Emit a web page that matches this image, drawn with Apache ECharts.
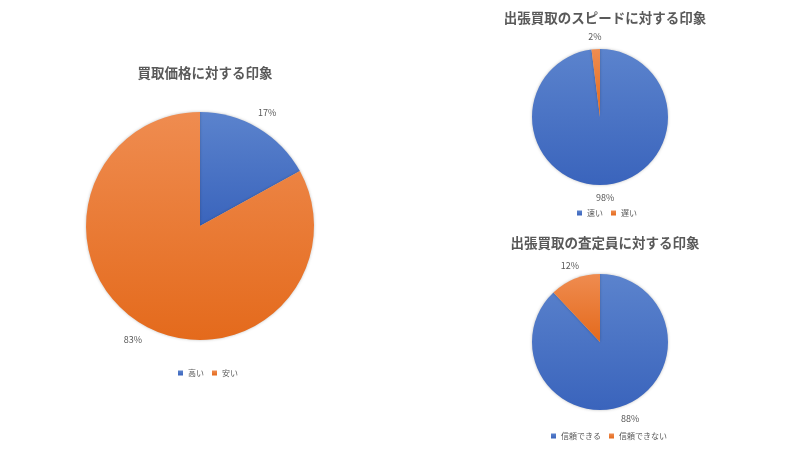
<!DOCTYPE html>
<html>
<head>
<meta charset="utf-8">
<script src="https://cdn.jsdelivr.net/npm/echarts@6/dist/echarts.min.js"></script>
<style>
  html, body { margin: 0; padding: 0; background: #fff; }
  #chart { width: 800px; height: 450px; }
</style>
</head>
<body>
<div id="chart"></div>
<script>
// survey results (%)
const priceNames = ['高い', '安い'];
const priceValues = [17, 83];
const speedNames = ['速い', '遅い'];
const speedValues = [98, 2];
const staffNames = ['信頼できる', '信頼できない'];
const staffValues = [88, 12];

const titles = ['買取価格に対する印象', '出張買取のスピードに対する印象', '出張買取の査定員に対する印象'];

const FONT = '"Noto Sans CJK JP", "Noto Sans", sans-serif';
const TEXT = '#595959';

const blueFill = new echarts.graphic.LinearGradient(0, 0, 0, 1, [
    { offset: 0, color: '#5b83cd' },
    { offset: 1, color: '#3a64bc' }
]);
const orangeFill = new echarts.graphic.LinearGradient(0, 0, 0, 1, [
    { offset: 0, color: '#ef8c50' },
    { offset: 1, color: '#e46a1c' }
]);
const fills = [blueFill, orangeFill];

function toData(names, values) {
    return names.map((n, i) => ({ name: n, value: values[i], itemStyle: { color: fills[i] } }));
}

// main pie + a transparent ring that only carries the percentage labels
function pieSeries(names, values, center, r, labelR) {
    return [
        {
            type: 'pie',
            center: center,
            radius: [0, r],
            startAngle: 90,
            clockwise: true,
            silent: true,
            label: { show: false },
            labelLine: { show: false },
            itemStyle: { shadowBlur: 3, shadowColor: 'rgba(0,0,0,0.25)' },
            data: toData(names, values)
        },
        {
            type: 'pie',
            center: center,
            radius: [labelR - 6, labelR + 6],
            startAngle: 90,
            clockwise: true,
            silent: true,
            legendHoverLink: false,
            itemStyle: { color: 'rgba(0,0,0,0)' },
            label: {
                show: true,
                position: 'inside',
                formatter: '{c}%',
                color: TEXT,
                fontSize: 9,
                fontFamily: FONT
            },
            labelLine: { show: false },
            data: names.map((n, i) => ({ name: n, value: values[i] }))
        }
    ];
}

function legendAt(names, left, top) {
    return {
        data: names,
        left: left,
        top: top,
        icon: 'rect',
        itemWidth: 5,
        itemHeight: 5,
        itemGap: 8,
        textStyle: { color: TEXT, fontSize: 8, fontFamily: FONT }
    };
}

function titleAt(text, left, top) {
    return {
        text: text,
        left: left,
        top: top,
        textAlign: 'center',
        textStyle: { color: TEXT, fontSize: 13.5, fontWeight: 'bold', fontFamily: FONT }
    };
}

const chart = echarts.init(document.getElementById('chart'));

chart.setOption({
    backgroundColor: '#ffffff',
    animation: false,
    color: ['#4472c4', '#ed7d31'],
    title: [
        titleAt(titles[0], 200, 61),
        titleAt(titles[1], 600, 6),
        titleAt(titles[2], 600, 231)
    ],
    legend: [
        legendAt(priceNames, 173, 364),
        legendAt(speedNames, 572, 204),
        legendAt(staffNames, 546, 427)
    ],
    series: [].concat(
        pieSeries(priceNames, priceValues, [200, 226], 114, 129),
        pieSeries(speedNames, speedValues, [600, 117], 68, 78),
        pieSeries(staffNames, staffValues, [600, 342], 68, 79)
    )
});
</script>
</body>
</html>
